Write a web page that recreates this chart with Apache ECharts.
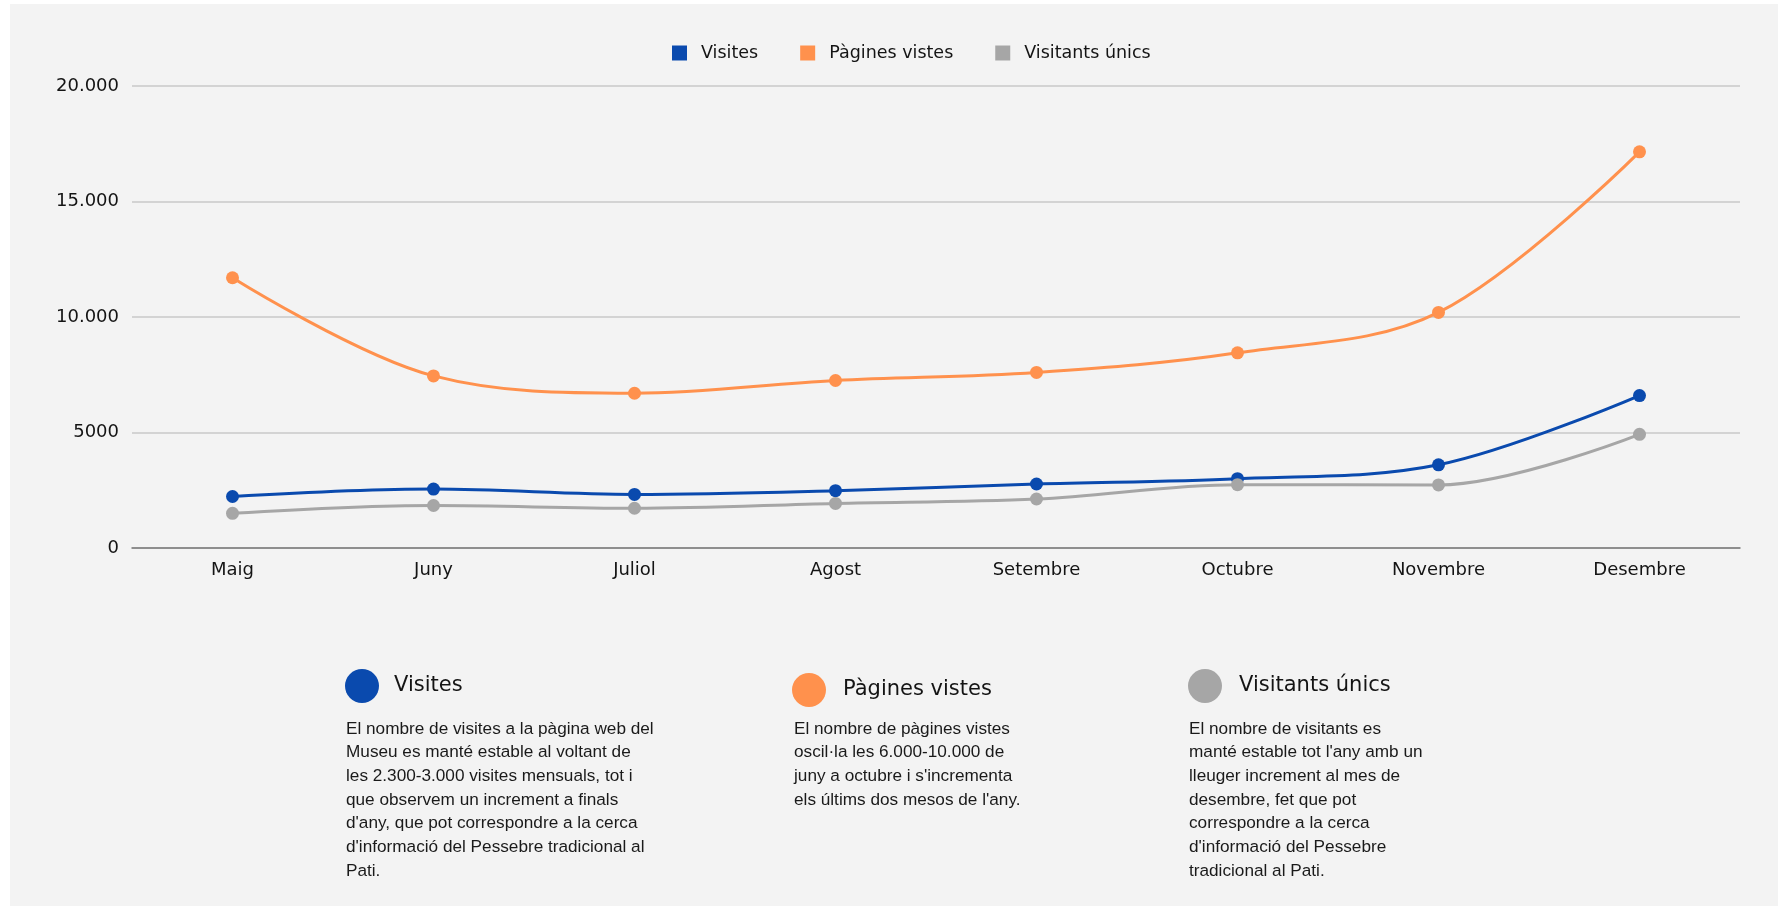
<!DOCTYPE html>
<html>
<head>
<meta charset="utf-8">
<script src="https://cdn.jsdelivr.net/npm/echarts@6/dist/echarts.min.js"></script>
<style>
  html, body { margin: 0; padding: 0; background: #ffffff; }
  #panel { position: absolute; left: 10px; top: 4px; width: 1768px; height: 902px; background: #f3f3f3; }
  #chart { position: absolute; left: 0; top: 0; width: 1778px; height: 908px; }
</style>
</head>
<body>
<div id="panel"></div>
<div id="chart"></div>
<script>
const categories = ['Maig', 'Juny', 'Juliol', 'Agost', 'Setembre', 'Octubre', 'Novembre', 'Desembre'];
const visites = [2230, 2550, 2320, 2480, 2770, 3000, 3600, 6600];
const paginesVistes = [11700, 7450, 6700, 7250, 7600, 8450, 10200, 17150];
const visitantsUnics = [1500, 1840, 1720, 1930, 2120, 2740, 2730, 4920];
const yTickLabels = { 0: '0', 5000: '5000', 10000: '10.000', 15000: '15.000', 20000: '20.000' };
const seriesNames = ['Visites', 'Pàgines vistes', 'Visitants únics'];
const colors = ['#0a4aae', '#ff914d', '#a6a6a6'];
const cardTexts = [
  "El nombre de visites a la pàgina web del\nMuseu es manté estable al voltant de\nles 2.300-3.000 visites mensuals, tot i\nque observem un increment a finals\nd'any, que pot correspondre a la cerca\nd'informació del Pessebre tradicional al\nPati.",
  "El nombre de pàgines vistes\noscil·la les 6.000-10.000 de\njuny a octubre i s'incrementa\nels últims dos mesos de l'any.",
  "El nombre de visitants es\nmanté estable tot l'any amb un\nlleuger increment al mes de\ndesembre, fet que pot\ncorrespondre a la cerca\nd'informació del Pessebre\ntradicional al Pati."
];

const chart = echarts.init(document.getElementById('chart'));
const labelFont = "'DejaVu Sans', sans-serif";
const cards = [
  { cx: 362, cy: 686, tx: 394, bx: 346 },
  { cx: 809, cy: 690, tx: 843, bx: 794 },
  { cx: 1205, cy: 686, tx: 1239, bx: 1189 }
];
const graphics = [];
cards.forEach((c, i) => {
  graphics.push({ type: 'circle', shape: { cx: c.cx, cy: c.cy, r: 17 }, style: { fill: colors[i] } });
  graphics.push({ type: 'text', x: c.tx, y: c.cy, style: { text: seriesNames[i], fill: '#141414', font: "21px 'DejaVu Sans', sans-serif", textVerticalAlign: 'middle' } });
  graphics.push({ type: 'text', x: c.bx, y: 717, style: { text: cardTexts[i], fill: '#1a1a1a', font: "17.2px 'Liberation Sans', Arial, sans-serif", lineHeight: 23.7, textVerticalAlign: 'top' } });
});

function mkSeries(name, data, color) {
  return {
    name: name, type: 'line', data: data, smooth: 0.35,
    symbol: 'circle', symbolSize: 13,
    lineStyle: { width: 3, color: color },
    itemStyle: { color: color },
    emphasis: { disabled: true }
  };
}

chart.setOption({
  animation: false,
  color: colors,
  legend: {
    data: seriesNames, top: 39, left: 667, icon: 'rect', itemWidth: 15, itemHeight: 15, itemGap: 42,
    textStyle: { fontFamily: labelFont, fontSize: 17.5, color: '#141414', padding: [0, 0, 0, 9] }
  },
  grid: { left: 132, right: 38, top: 86, bottom: 360 },
  xAxis: {
    type: 'category', data: categories, boundaryGap: true,
    axisLine: { lineStyle: { color: '#777777', width: 1.5 } },
    axisTick: { show: false },
    axisLabel: { fontFamily: labelFont, fontSize: 18, color: '#141414', margin: 13 }
  },
  yAxis: {
    type: 'value', min: 0, max: 20000, interval: 5000,
    axisLine: { show: false }, axisTick: { show: false },
    splitLine: { lineStyle: { color: '#c8c8c8', width: 1.5 } },
    axisLabel: { fontFamily: labelFont, fontSize: 18, color: '#141414', margin: 13,
      formatter: v => yTickLabels[v] !== undefined ? yTickLabels[v] : String(v) }
  },
  series: [
    mkSeries(seriesNames[0], visites, colors[0]),
    mkSeries(seriesNames[1], paginesVistes, colors[1]),
    mkSeries(seriesNames[2], visitantsUnics, colors[2])
  ],
  graphic: graphics
});
</script>
</body>
</html>
